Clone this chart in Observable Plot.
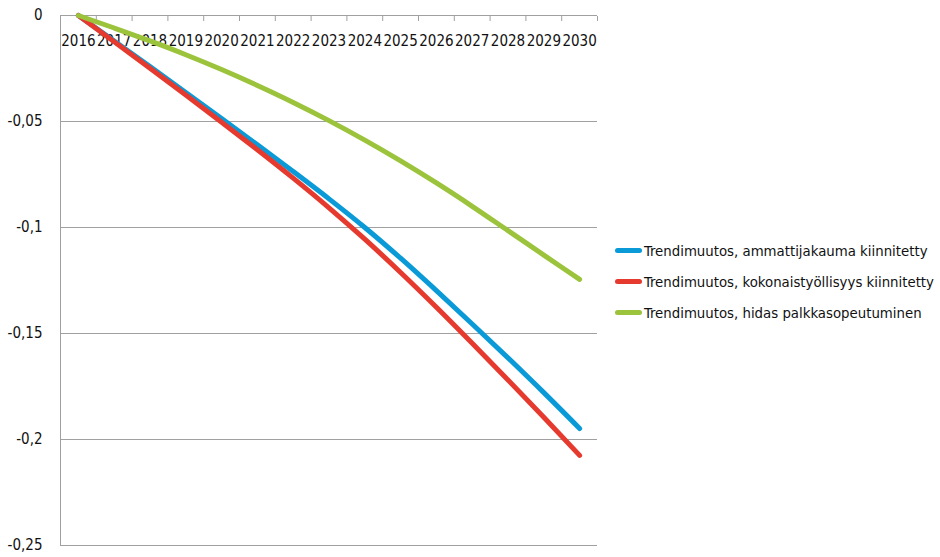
<!DOCTYPE html>
<html>
<head>
<meta charset="utf-8">
<script src="https://cdn.jsdelivr.net/npm/d3@7"></script>
<script src="https://cdn.jsdelivr.net/npm/@observablehq/plot@0.6"></script>
<style>
  html, body { margin: 0; padding: 0; background: #fff; }
  #wrap { position: relative; width: 940px; height: 557px; font-family: 'DejaVu Sans Condensed', 'DejaVu Sans', sans-serif; font-stretch: condensed; color: #111; }
  #chart { position: absolute; left: 0; top: 0; }
  #chart svg text { font-stretch: condensed; }
  #legend { position: absolute; left: 615px; top: 235px; font-size: 14.8px; font-stretch: condensed; }
  .row { display: flex; align-items: center; height: 31px; white-space: nowrap; }
  .sw { width: 27px; height: 5px; border-radius: 3px; margin-right: 2px; }
</style>
</head>
<body>
<div id="wrap"><div id="chart"></div><div id="legend"></div></div>
<script>
const years = [2016, 2017, 2018, 2019, 2020, 2021, 2022, 2023, 2024, 2025, 2026, 2027, 2028, 2029, 2030];
const seriesNames = [
  "Trendimuutos, ammattijakauma kiinnitetty",
  "Trendimuutos, kokonaistyöllisyys kiinnitetty",
  "Trendimuutos, hidas palkkasopeutuminen"
];
const seriesColors = ["#0a9ad8", "#e63a2f", "#9bc43c"];
const ammattijakauma = [0, -0.0120, -0.0241, -0.0363, -0.0486, -0.0610, -0.0736, -0.0865, -0.1000, -0.1145, -0.1298, -0.1455, -0.1615, -0.1779, -0.1948];
const kokonaistyollisyys = [0, -0.0124, -0.0249, -0.0375, -0.0503, -0.0633, -0.0767, -0.0907, -0.1055, -0.1212, -0.1376, -0.1546, -0.1719, -0.1895, -0.2075];
const hidas = [0, -0.0059, -0.0120, -0.0185, -0.0255, -0.0330, -0.0410, -0.0496, -0.0588, -0.0686, -0.0790, -0.0900, -0.1015, -0.1130, -0.1245];
const yTicks = [0, -0.05, -0.1, -0.15, -0.2, -0.25];
const yTickLabels = ["0", "-0,05", "-0,1", "-0,15", "-0,2", "-0,25"];

const seriesValues = [ammattijakauma, kokonaistyollisyys, hidas];
const data = seriesNames.flatMap((s, i) => years.map((yr, j) => ({series: s, year: yr, value: seriesValues[i][j]})));
const boundaries = [...years.map(y => y - 0.5), years[years.length - 1] + 0.5];

const chart = Plot.plot({
  width: 605,
  height: 557,
  marginLeft: 60,
  marginRight: 8,
  marginTop: 15,
  marginBottom: 12,
  style: {fontFamily: "'DejaVu Sans Condensed', 'DejaVu Sans', sans-serif", fontSize: "15px", color: "#111", background: "#fff"},
  x: {domain: [years[0] - 0.5, years[years.length - 1] + 0.5]},
  y: {domain: [-0.25, 0]},
  color: {domain: seriesNames, range: seriesColors},
  marks: [
    Plot.ruleY(yTicks.filter(d => d < 0), {stroke: "#a0a0a0", strokeWidth: 1}),
    Plot.ruleY([0], {stroke: "#a0a0a0", strokeWidth: 1}),
    Plot.ruleX([boundaries[0]], {stroke: "#a0a0a0", strokeWidth: 1}),
    Plot.axisX({anchor: "top", ticks: boundaries, tickSize: -5, tickFormat: () => "", stroke: "#a0a0a0", label: null}),
    Plot.axisY({ticks: yTicks, tickSize: 0, tickPadding: 18, tickFormat: d => yTickLabels[yTicks.indexOf(d)], label: null, fontSize: 15}),
    Plot.text(years, {x: d => d, y: () => 0, dy: 26, text: d => String(d), fontSize: 15, fill: "#111"}),
    Plot.line(data, {x: "year", y: "value", z: "series", stroke: "series", strokeWidth: 5, strokeLinecap: "round", strokeLinejoin: "round", curve: "monotone-x"})
  ]
});
document.getElementById("chart").appendChild(chart);

const legend = document.getElementById("legend");
seriesNames.forEach((s, i) => {
  const row = document.createElement("div");
  row.className = "row";
  const sw = document.createElement("div");
  sw.className = "sw";
  sw.style.background = seriesColors[i];
  const t = document.createElement("span");
  t.textContent = s;
  row.appendChild(sw);
  row.appendChild(t);
  legend.appendChild(row);
});
</script>
</body>
</html>
